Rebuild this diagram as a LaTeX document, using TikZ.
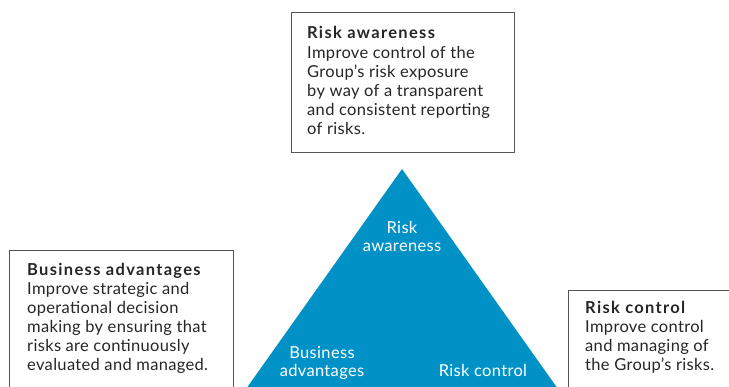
\documentclass[tikz,border=0pt]{standalone}
\usepackage{fontspec}
\setmainfont{Lato}[LetterSpace=2]
\newfontfamily\headfont{Lato}[LetterSpace=8,BoldFont=* Bold]
\usetikzlibrary{positioning}

\definecolor{pyramidblue}{RGB}{0,146,199}
\definecolor{boxgrey}{RGB}{85,85,85}

\newcommand{\boxhead}[1]{{\headfont\bfseries #1}}

\tikzset{
  infobox/.style={draw=boxgrey, line width=0.9pt, anchor=north west, inner sep=0pt},
  infotext/.style={anchor=base west, align=left, inner sep=0pt,
    font=\fontsize{16.5}{19.2}\selectfont, text=black!85},
  cornerlabel/.style={anchor=base, align=center, inner sep=0pt,
    font=\fontsize{16.5}{18}\selectfont, text=white}
}

\begin{document}
\begin{tikzpicture}[x=1pt,y=-1pt]
  \useasboundingbox (0,0) rectangle (729,387);
  \clip (0,0) rectangle (729,387);

  % Pyramid
  \coordinate (apex) at (402,169);
  \coordinate (baseL) at (224,420);
  \coordinate (baseR) at (580,420);
  \fill[pyramidblue] (apex) -- (baseR) -- (baseL) -- cycle;

  % labels sit on the baseline of their last line
  \node[cornerlabel] (awarelbl) at (402,252) {Risk\\awareness};
  \node[cornerlabel] (busilbl) at (322,377) {Business\\advantages};
  \node[cornerlabel] (ctrllbl) at (483,377) {Risk control};

  % Boxes
  \node[infobox, minimum width=223pt, minimum height=140pt] (awarebox) at (291,12) {};
  \node[infobox, minimum width=224pt, minimum height=160pt] (busibox) at (9,250) {};
  \node[infobox, minimum width=180pt, minimum height=120pt] (ctrlbox) at (568,290) {};

  % Box texts
  \node[infotext] (awaretxt) at (307,135) {\boxhead{Risk awareness}\\
    Improve control of the\\
    Group’s risk exposure\\
    by way of a transparent\\
    and consistent reporting\\
    of risks.};
  \node[infotext] (busitxt) at (27,371) {\boxhead{Business advantages}\\
    Improve strategic and\\
    operational decision\\
    making by ensuring that\\
    risks are continuously\\
    evaluated and managed.};
  \node[infotext] (ctrltxt) at (585,371) {\boxhead{Risk control}\\
    Improve control\\
    and managing of\\
    the Group’s risks.};
\end{tikzpicture}
\end{document}
